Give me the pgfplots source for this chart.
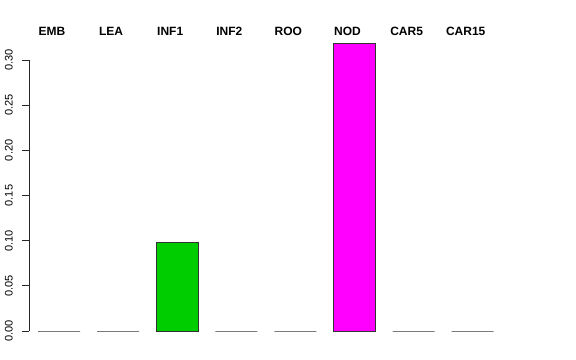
\documentclass[border=0pt]{standalone}
\usepackage{fontspec}
\setmainfont{Liberation Sans}
\usepackage{pgfplots}
\pgfplotsset{compat=1.18}
\definecolor{rgreen}{HTML}{00CD00}
\definecolor{rmag}{HTML}{FF00FF}
\tikzset{toplab/.style={anchor=base, inner sep=0pt, yshift=24.5bp, xshift=-7bp, font=\fontsize{12bp}{14bp}\selectfont\bfseries}}
\begin{document}
\begin{tikzpicture}
\path[use as bounding box] (0,0) rectangle (576bp,360bp);
\begin{axis}[
  at={(29bp,29bp)}, anchor=south west,
  scale only axis, width=483bp, height=271bp,
  xmin=-0.508, xmax=7.665, ymin=0, ymax=0.30,
  clip=false,
  axis y line*=left,
  axis x line=none,
  y axis line style={black!85, line width=0.8bp, -},
  ytick={0,0.05,0.10,0.15,0.20,0.25,0.30},
  tick align=outside,
  major tick length=7bp,
  y tick style={black!85, line width=0.8bp},
  /pgf/number format/assume math mode=true,
  /pgf/number format/fixed,
  /pgf/number format/fixed zerofill,
  /pgf/number format/precision=2,
  yticklabel style={xshift=-9bp, rotate=90, anchor=south, inner sep=0pt, font=\fontsize{11bp}{13bp}\selectfont},
]
\addplot[ybar, bar width=0.71, bar shift=0pt, draw=black!80, line width=0.8bp, fill=white]
  coordinates {(0,0) (1,0) (3,0) (4,0) (6,0) (7,0)};
\addplot[ybar, bar width=0.71, bar shift=0pt, draw=black!80, line width=0.8bp, fill=rgreen]
  coordinates {(2,0.0985)};
\addplot[ybar, bar width=0.71, bar shift=0pt, draw=black!80, line width=0.8bp, fill=rmag]
  coordinates {(5,0.3188)};
\node[toplab] at (axis cs:0,0.30) {EMB};
\node[toplab] at (axis cs:1,0.30) {LEA};
\node[toplab] at (axis cs:2,0.30) {INF1};
\node[toplab] at (axis cs:3,0.30) {INF2};
\node[toplab] at (axis cs:4,0.30) {ROO};
\node[toplab] at (axis cs:5,0.30) {NOD};
\node[toplab] at (axis cs:6,0.30) {CAR5};
\node[toplab] at (axis cs:7,0.30) {CAR15};
\end{axis}
\end{tikzpicture}
\end{document}
